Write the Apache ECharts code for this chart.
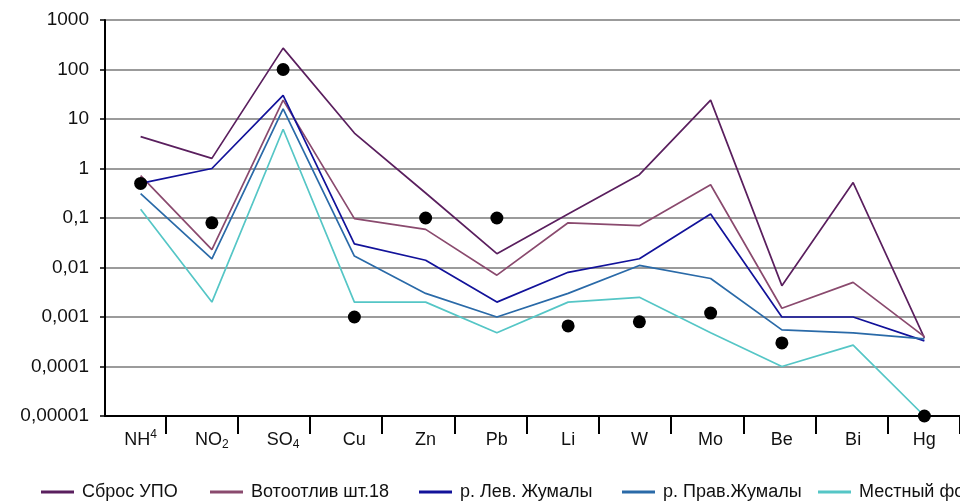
<!DOCTYPE html>
<html>
<head>
<meta charset="utf-8">
<script src="https://cdn.jsdelivr.net/npm/echarts@6/dist/echarts.min.js"></script>
<style>
html,body{margin:0;padding:0;background:#fff;}
#chart{width:960px;height:502px;}
</style>
</head>
<body>
<div id="chart"></div>
<script>
const categories = ['NH4','NO2','SO4','Cu','Zn','Pb','Li','W','Mo','Be','Bi','Hg'];
const xTickLabels = ['{b|NH}{sup|4}','{b|NO}{sub|2}','{b|SO}{sub|4}','{b|Cu}','{b|Zn}','{b|Pb}','{b|Li}','{b|W}','{b|Mo}','{b|Be}','{b|Bi}','{b|Hg}'];
const yTickLabels = ['0,00001','0,0001','0,001','0,01','0,1','1','10','100','1000'];

const sbrosUPO   = [4.4, 1.6, 270, 5.2, 0.32, 0.019, 0.12, 0.75, 24, 0.0043, 0.52, 0.00038];
const vodootliv  = [0.72, 0.023, 24, 0.097, 0.059, 0.007, 0.08, 0.07, 0.47, 0.0015, 0.005, 0.0004];
const levZhumaly = [0.5, 1.0, 30, 0.03, 0.014, 0.002, 0.008, 0.015, 0.12, 0.001, 0.001, 0.00033];
const pravZhumaly= [0.31, 0.015, 16, 0.017, 0.003, 0.001, 0.003, 0.011, 0.006, 0.00055, 0.00048, 0.00036];
const mestnyFon  = [0.15, 0.002, 6.2, 0.002, 0.002, 0.00048, 0.002, 0.0025, 0.00048, 0.0001, 0.00027, 0.00001];
const points     = [0.5, 0.08, 100, 0.001, 0.1, 0.1, 0.00066, 0.0008, 0.0012, 0.0003, null, 0.00001];

const seriesNames = ['Сброс УПО','Вотоотлив шт.18','р. Лев. Жумалы','р. Прав.Жумалы','Местный фон'];
const seriesColors = ['#5a1f5e','#8a4a6e','#12129a','#2a6aa8','#55c6c6'];
const seriesData = [sbrosUPO, vodootliv, levZhumaly, pravZhumaly, mestnyFon];
const legendLefts = [36, 205, 414, 617, 813];

const FONT = 'Liberation Sans, Arial, sans-serif';
const chart = echarts.init(document.getElementById('chart'), null, {renderer:'canvas'});

const lineSeries = seriesNames.map((n, i) => ({
  name: n,
  type: 'line',
  xAxisIndex: 0, yAxisIndex: 0,
  data: seriesData[i],
  showSymbol: false,
  symbol: 'none',
  color: seriesColors[i],
  lineStyle: {color: seriesColors[i], width: 1.7},
  animation: false,
  z: 3
}));

const legends = seriesNames.map((n, i) => ({
  data: [n],
  left: legendLefts[i],
  top: 478,
  icon: 'rect',
  itemWidth: 33,
  itemHeight: 3,
  itemGap: 0,
  width: 300,
  textStyle: {fontFamily: FONT, fontSize: 18, color: '#111', padding: [0,0,0,3]},
  selectedMode: false
}));

chart.setOption({
  animation: false,
  backgroundColor: '#fff',
  legend: legends,
  grid: [
    {left: 105, top: 20, right: -9, bottom: 86, containLabel: false},
    {left: 93, top: 20, right: -11, bottom: 86, containLabel: false}
  ],
  xAxis: [
    {
      type: 'category', gridIndex: 0, data: categories, boundaryGap: true,
      axisLine: {show: true, lineStyle: {color: '#000', width: 2}},
      axisTick: {show: false},
      axisLabel: {
        interval: 0,
        margin: 13,
        formatter: (v, idx) => xTickLabels[idx],
        rich: {
          b: {fontFamily: FONT, fontSize: 18, color: '#111', lineHeight: 22},
          sub: {fontFamily: FONT, fontSize: 12, color: '#111', lineHeight: 12, verticalAlign: 'bottom'},
          sup: {fontFamily: FONT, fontSize: 12, color: '#111', lineHeight: 12, verticalAlign: 'top'}
        }
      },
      splitLine: {show: false}
    },
    {
      type: 'category', gridIndex: 1, data: categories, boundaryGap: true,
      axisLine: {show: false},
      axisTick: {show: true, length: 18, lineStyle: {color: '#000', width: 2}, interval: (i) => i > 0},
      axisLabel: {show: false},
      splitLine: {show: false}
    }
  ],
  yAxis: [
    {
      type: 'log', gridIndex: 0, logBase: 10, min: 0.00001, max: 1000,
      axisLine: {show: true, lineStyle: {color: '#000', width: 2}},
      axisTick: {show: true, length: 5, lineStyle: {color: '#000', width: 1.5}},
      axisLabel: {
        margin: 16,
        fontFamily: FONT, fontSize: 19, color: '#111',
        formatter: (v) => yTickLabels[Math.round(Math.log10(v)) + 5]
      },
      splitLine: {show: true, lineStyle: {color: '#7a7a7a', width: 1.5}},
      minorTick: {show: false}
    },
    {
      type: 'value', gridIndex: 1, show: false
    }
  ],
  series: lineSeries.concat([{
    name: 'Точки',
    type: 'scatter',
    xAxisIndex: 0, yAxisIndex: 0,
    data: points,
    symbol: 'circle',
    symbolSize: 13,
    itemStyle: {color: '#000', opacity: 1},
    z: 5,
    animation: false
  }])
});
</script>
</body>
</html>
